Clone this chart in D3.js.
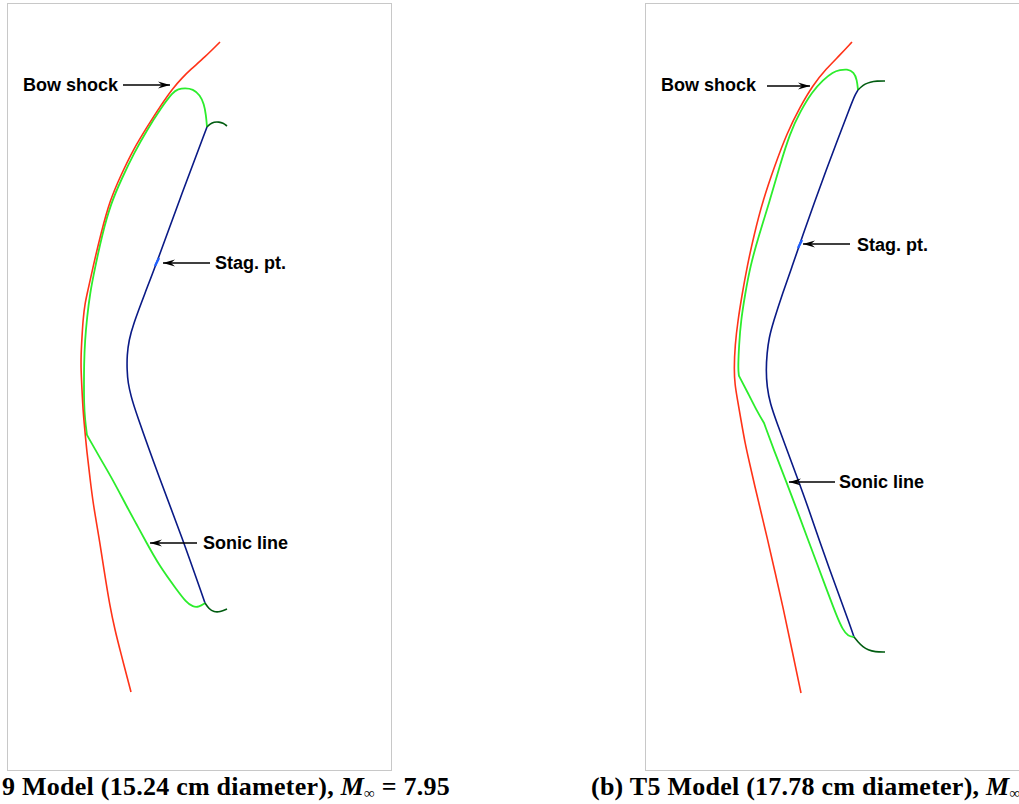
<!DOCTYPE html>
<html><head><meta charset="utf-8">
<script src="https://cdn.jsdelivr.net/npm/d3@7"></script>
<style>html,body{margin:0;padding:0;background:#fff;overflow:hidden}</style>
</head><body>
<svg id="c" width="1019" height="804"></svg>
<script>
// ---- Data (panel units: x right, y down, frame = 384 x 767) ----
const shockLeft = [[213,39],[198,54],[183,67],[175,75],[166,85],[154,102],[140,124],[126,147],[114,172],[103,197],[94,230],[86,264],[81,287],[78,300],[76,317],[75,334],[74,352],[74,367],[75,387],[76,407],[78,429],[80,450],[83,475],[86,500],[92,534],[97,567],[103,604],[108,627],[113,647],[124,689]];
const sonicLeft = [[200,124],[199,112],[197,101],[193,92],[186,86],[178,85],[171,86],[166,89],[154,105],[140,127],[127,150],[115,175],[104,200],[95,232],[88,265],[83,290],[80,315],[78,337],[77,362],[77,382],[77,400],[78,417],[80,432],[93,455],[106,477],[120,504],[130,522],[138,537],[153,564],[170,587],[179,599],[186,604],[192,604],[198,600]];
const sonicKinksLeft = [22];
const bodyLeft = [[200,124],[175,190],[150,259],[138,290],[126,322],[122,337],[120,352],[120,367],[121,380],[124,393],[128,407],[153,477],[175,534],[198,600]];
const shoulderTopLeft = [[200,124],[203,121],[207,119],[212,119],[216,120],[220,123]];
const shoulderBotLeft = [[198,600],[202,606],[207,609],[213,609],[220,606]];
const stagLeft = [[148,263],[152,255]];

const shockRight = [[207,39],[195,52],[181,66],[168,82],[155,104],[142,130],[130,162],[118,197],[109,232],[102,264],[97,292],[93,317],[90,342],[89,367],[90,382],[92,394],[96,417],[100,440],[105,462],[110,484],[116,509],[122,534],[130,569],[138,604],[147,647],[156,690]];
const sonicRight = [[213,87],[212,77],[209,69],[202,66],[195,67],[188,69],[178,77],[167,89],[155,109],[145,130],[135,162],[125,197],[114,232],[105,264],[100,292],[96,317],[94,342],[93,367],[94,373],[104,392],[113,410],[119,420],[130,450],[141,478],[152,507],[162,534],[180,582],[192,614],[198,627],[203,633],[209,634]];
const sonicKinksRight = [18, 21];
const bodyRight = [[213,87],[210,92],[207,99],[181,167],[155,240],[147,264],[138,289],[128,320],[124,335],[122,350],[121,367],[122,384],[125,400],[132,420],[142,447],[152,474],[163,504],[173,534],[191,584],[205,622],[209,634]];
const shoulderTopRight = [[213,87],[216,84],[220,81],[225,79],[232,78],[240,78]];
const shoulderBotRight = [[209,634],[213,639],[218,644],[223,647],[230,649],[240,649]];
const stagRight = [[153,245],[157,237]];

// annotations: text x, text baseline y, arrow from (x,y) to (x,y)
const labelNames = ["Bow shock", "Stag. pt.", "Sonic line"];
const labelsLeft  = [[16,88,116,82,163,82],[208,266,203,260,156,260],[196,546,190,540,143,540]];
const labelsRight = [[16,88,122,83,165,83],[212,248,205,241,158,241],[194,485,190,479,144,479]];

const captionLeft = ["9 Model (15.24 cm diameter), ", "M", "\u221e", " = 7.95"];
const captionRight = ["(b) T5 Model (17.78 cm diameter), ", "M", "\u221e", ""];

// ---- Drawing ----
const svg = d3.select("#c");
const colors = {shock:"#ff3318", sonic:"#2ced2c", body:"#0a1a86", shoulder:"#005c10", stag:"#2060ff"};

const defs = svg.append("defs");
defs.append("marker").attr("id","ah").attr("viewBox","-12 -5 14 10")
  .attr("refX",0).attr("refY",0).attr("markerWidth",14).attr("markerHeight",10)
  .attr("markerUnits","userSpaceOnUse").attr("orient","auto")
  .append("path").attr("d","M0,0 L-12,-3.6 L-8,0 L-12,3.6 Z").attr("fill","#000");

const panels = [
  {left:7, series:{shock:shockLeft, sonic:sonicLeft, body:bodyLeft, st:shoulderTopLeft, sb:shoulderBotLeft, stag:stagLeft}, kinks:sonicKinksLeft, labels:labelsLeft, cap:captionLeft, capX:2},
  {left:645, series:{shock:shockRight, sonic:sonicRight, body:bodyRight, st:shoulderTopRight, sb:shoulderBotRight, stag:stagRight}, kinks:sonicKinksRight, labels:labelsRight, cap:captionRight, capX:591}
];

function splitAt(pts, kinks) {
  const segs = []; let start = 0;
  kinks.forEach(k => { segs.push(pts.slice(start, k+1)); start = k; });
  segs.push(pts.slice(start));
  return segs;
}

panels.forEach(p => {
  const x = d3.scaleLinear().domain([0,384]).range([p.left, p.left+384]);
  const y = d3.scaleLinear().domain([0,767]).range([3, 770]);
  const g = svg.append("g");
  g.append("rect").attr("x", x(0)+0.5).attr("y", y(0)+0.5)
    .attr("width", 384).attr("height", 767)
    .attr("fill","none").attr("stroke","#c8c8c8").attr("stroke-width",1);
  const smooth = d3.line().x(d=>x(d[0])).y(d=>y(d[1])).curve(d3.curveBasis);
  const lin = d3.line().x(d=>x(d[0])).y(d=>y(d[1]));
  const s = p.series;
  const sonicPath = splitAt(s.sonic, p.kinks).map((seg,i) => {
    const d = smooth(seg); return i === 0 ? d : d.replace(/^M[^CL]*/, "L" + x(seg[0][0]) + "," + y(seg[0][1]));
  }).join("");
  g.append("path").attr("d", smooth(s.body)).attr("fill","none").attr("stroke",colors.body).attr("stroke-width",1.6);
  g.append("path").attr("d", sonicPath).attr("fill","none").attr("stroke",colors.sonic).attr("stroke-width",1.8);
  g.append("path").attr("d", smooth(s.st)).attr("fill","none").attr("stroke",colors.shoulder).attr("stroke-width",1.6);
  g.append("path").attr("d", smooth(s.sb)).attr("fill","none").attr("stroke",colors.shoulder).attr("stroke-width",1.6);
  g.append("path").attr("d", smooth(s.shock)).attr("fill","none").attr("stroke",colors.shock).attr("stroke-width",1.6);
  g.append("path").attr("d", lin(s.stag)).attr("fill","none").attr("stroke",colors.stag).attr("stroke-width",2.4);

  p.labels.forEach((l,i) => {
    g.append("line").attr("x1",x(l[2])).attr("y1",y(l[3])).attr("x2",x(l[4])).attr("y2",y(l[5]))
      .attr("stroke","#000").attr("stroke-width",1.3).attr("marker-end","url(#ah)");
    g.append("text").attr("x",x(l[0])).attr("y",y(l[1])).text(labelNames[i])
      .attr("font-family","'Liberation Sans', Arial, sans-serif").attr("font-weight","bold")
      .attr("font-size",18).attr("fill","#000");
  });

  const t = svg.append("text").attr("x",p.capX).attr("y",795)
    .attr("font-family","'Liberation Serif','Times New Roman',serif").attr("font-weight","bold")
    .attr("font-size",26).attr("letter-spacing",0.25).attr("fill","#000");
  t.append("tspan").text(p.cap[0]);
  t.append("tspan").attr("font-style","italic").text(p.cap[1]);
  t.append("tspan").attr("font-size",15).attr("dy",3).text(p.cap[2]);
  if (p.cap[3]) t.append("tspan").attr("dy",-3).text(p.cap[3]);
});
</script>
</body></html>
